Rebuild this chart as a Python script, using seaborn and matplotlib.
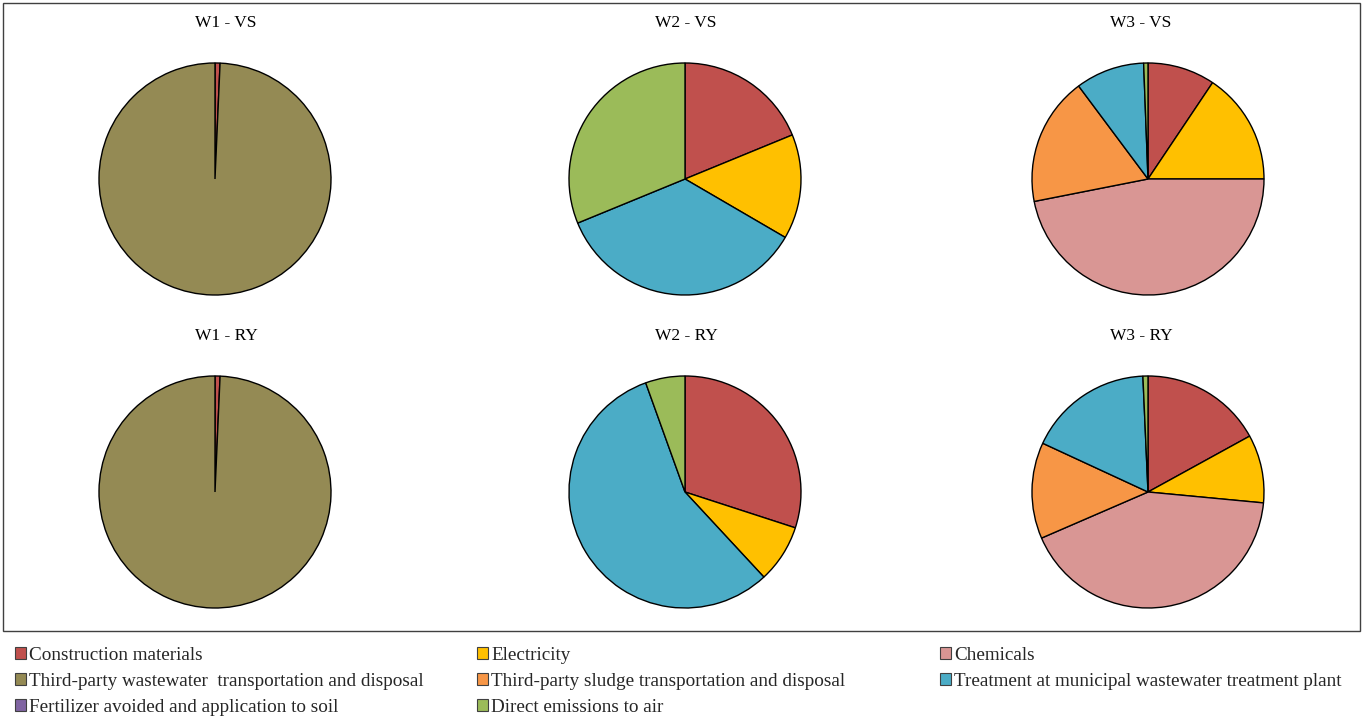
import matplotlib
matplotlib.use("Agg")
import matplotlib.pyplot as plt
from matplotlib.patches import Patch, Rectangle
import seaborn as sns

sns.set_theme(style="white")
plt.rcParams["font.family"] = ["Liberation Serif", "DejaVu Serif"]

# Emission sources (legend order) and their colours
categories = [
    "Construction materials",
    "Electricity",
    "Chemicals",
    "Third-party wastewater  transportation and disposal",
    "Third-party sludge transportation and disposal",
    "Treatment at municipal wastewater treatment plant",
    "Fertilizer avoided and application to soil",
    "Direct emissions to air",
]
colors = ["#C0504D", "#FFC000", "#D99694", "#948A54",
          "#F79646", "#4BACC6", "#8064A2", "#9BBB59"]

# Share of each source (%) per scenario
w1_vs = [0.7, 0, 0, 99.3, 0, 0, 0, 0]
w2_vs = [18.8, 14.6, 0, 0, 0, 35.4, 0, 31.2]
w3_vs = [9.4, 15.6, 46.9, 0, 17.9, 9.6, 0, 0.6]
w1_ry = [0.7, 0, 0, 99.3, 0, 0, 0, 0]
w2_ry = [30.0, 8.1, 0, 0, 0, 56.4, 0, 5.5]
w3_ry = [17.0, 9.5, 42.0, 0, 13.4, 17.4, 0, 0.7]

titles = ["W1 - VS", "W2 - VS", "W3 - VS", "W1 - RY", "W2 - RY", "W3 - RY"]
series = [w1_vs, w2_vs, w3_vs, w1_ry, w2_ry, w3_ry]

W, H = 1362, 717
fig = plt.figure(figsize=(W / 100, H / 100), dpi=100)

# frame around the pie panel
fig.patches.append(Rectangle((3 / W, 1 - 631 / H), 1357 / W, 628 / H,
                             transform=fig.transFigure, fill=False,
                             edgecolor="#404040", linewidth=1.0))

centers_x = [215, 685, 1148]
centers_y = [179, 492]
title_x = [226, 686, 1141]
title_y = [23, 336]
radius = 116
pad = 1.05

for i, (name, vals) in enumerate(zip(titles, series)):
    cx = centers_x[i % 3]
    cy = centers_y[i // 3]
    half = radius * pad
    ax = fig.add_axes([(cx - half) / W, 1 - (cy + half) / H,
                       2 * half / W, 2 * half / H])
    v = [x for x in vals if x > 0]
    c = [col for x, col in zip(vals, colors) if x > 0]
    ax.pie(v, colors=c, startangle=90, counterclock=False, radius=1,
           wedgeprops=dict(edgecolor="black", linewidth=1.0))
    ax.set_xlim(-pad, pad)
    ax.set_ylim(-pad, pad)
    ax.set_aspect("equal")
    ax.axis("off")
    fig.text(title_x[i % 3] / W, 1 - title_y[i // 3] / H, name,
             ha="center", va="center", fontsize=12.5, color="black")

# legend laid out row by row in three columns
col_x = [15, 477, 940]
for col in range(3):
    idx = list(range(col, len(categories), 3))
    handles = [Patch(facecolor=colors[k], edgecolor="#404040", linewidth=0.8)
               for k in idx]
    labels = [categories[k] for k in idx]
    fig.legend(handles, labels, loc="upper left",
               bbox_to_anchor=(col_x[col] / W, 1 - 647 / H),
               frameon=False, fontsize=13.8, handlelength=0.55,
               handleheight=0.55, handletextpad=0.2, labelspacing=0.46,
               borderaxespad=0, borderpad=0)

fig.savefig("out.png", dpi=100, facecolor="white")
